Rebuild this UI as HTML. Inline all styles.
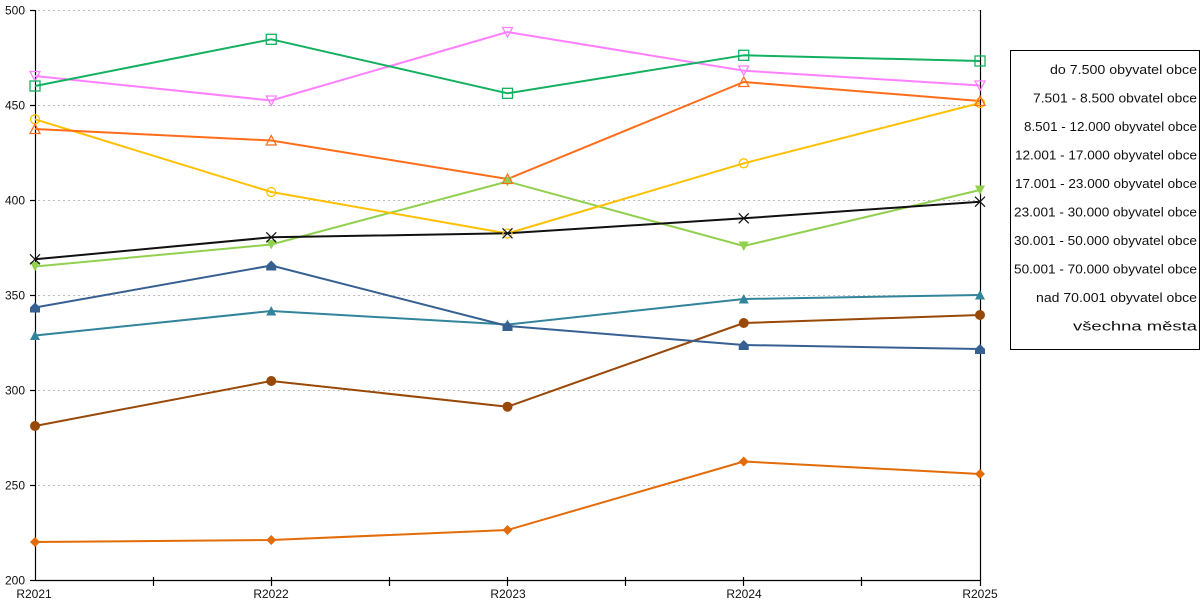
<!DOCTYPE html>
<html><head><meta charset="utf-8"><style>
html,body{margin:0;padding:0;background:#fff;}
svg{display:block;}
text{font-family:"Liberation Sans","DejaVu Sans",sans-serif;fill:#111;}
</style></head><body>
<svg width="1200" height="600" viewBox="0 0 1200 600" xmlns="http://www.w3.org/2000/svg">
<rect width="1200" height="600" fill="#fff"/>
<!-- grid -->
<g stroke="#bbbbbb" stroke-width="1" stroke-dasharray="2,3">
<line x1="38" y1="10.5" x2="980" y2="10.5"/>
<line x1="38" y1="105.5" x2="980" y2="105.5"/>
<line x1="38" y1="200.5" x2="980" y2="200.5"/>
<line x1="38" y1="295.5" x2="980" y2="295.5"/>
<line x1="38" y1="390.5" x2="980" y2="390.5"/>
<line x1="38" y1="485.5" x2="980" y2="485.5"/>
</g>
<!-- axes -->
<g stroke="#000" stroke-width="1.2">
<line x1="35.5" y1="10" x2="35.5" y2="581"/>
<line x1="980.5" y1="10" x2="980.5" y2="586"/>
<line x1="35" y1="580.5" x2="981" y2="580.5"/>
<line x1="30" y1="10.5" x2="35" y2="10.5"/>
<line x1="30" y1="105.5" x2="35" y2="105.5"/>
<line x1="30" y1="200.5" x2="35" y2="200.5"/>
<line x1="30" y1="295.5" x2="35" y2="295.5"/>
<line x1="30" y1="390.5" x2="35" y2="390.5"/>
<line x1="30" y1="485.5" x2="35" y2="485.5"/>
<line x1="30" y1="580.5" x2="35" y2="580.5"/>
<line x1="153.5" y1="577" x2="153.5" y2="586"/>
<line x1="271.5" y1="577" x2="271.5" y2="586"/>
<line x1="389.5" y1="577" x2="389.5" y2="586"/>
<line x1="507.5" y1="577" x2="507.5" y2="586"/>
<line x1="625.5" y1="577" x2="625.5" y2="586"/>
<line x1="743.5" y1="577" x2="743.5" y2="586"/>
<line x1="861.5" y1="577" x2="861.5" y2="586"/>
</g>
<!-- y labels -->
<g font-size="12" text-anchor="end">
<text x="25" y="14.5">500</text>
<text x="25" y="109.5">450</text>
<text x="25" y="204.5">400</text>
<text x="25" y="299.5">350</text>
<text x="25" y="394.5">300</text>
<text x="25" y="489.5">250</text>
<text x="25" y="584.5">200</text>
</g>
<!-- x labels -->
<g font-size="12" text-anchor="middle">
<text x="34" y="598">R2021</text>
<text x="271" y="598">R2022</text>
<text x="508" y="598">R2023</text>
<text x="744" y="598">R2024</text>
<text x="980" y="598">R2025</text>
</g>

<g fill="none" stroke-width="2" stroke-linejoin="round">
<polyline stroke="#e36c09" points="35,542 271.25,540 507.5,530 743.75,461.5 980,474"/>
<polyline stroke="#984807" points="35,426 271.25,381 507.5,406.7 743.75,323 980,315"/>
<polyline stroke="#31849b" points="35,335.5 271.25,311 507.5,324.5 743.75,299 980,295"/>
<polyline stroke="#376092" points="35,307.5 271.25,265.5 507.5,326 743.75,345 980,349"/>
<polyline stroke="#92d050" points="35,266.5 271.25,244.5 507.5,181.5 743.75,246 980,190"/>
<polyline stroke="#ffc000" points="35,119.3 271.25,192 507.5,233.5 743.75,163.3 980,103"/>
<polyline stroke="#ff6d1a" points="35,129 271.25,140.5 507.5,179 743.75,82 980,101"/>
<polyline stroke="#ff80ff" points="35,76 271.25,100.5 507.5,32 743.75,70.7 980,85.5"/>
<polyline stroke="#13b060" points="35,86 271.25,39.3 507.5,93.3 743.75,55.3 980,61"/>
<polyline stroke="#111" points="35,259.3 271.25,237.3 507.5,233.3 743.75,218.3 980,201.7"/>
</g>

<!-- markers -->
<g fill="#e36c09">
<path d="M35,537 l5,5 l-5,5 l-5,-5z"/>
<path d="M271.25,535 l5,5 l-5,5 l-5,-5z"/>
<path d="M507.5,525 l5,5 l-5,5 l-5,-5z"/>
<path d="M743.75,456.5 l5,5 l-5,5 l-5,-5z"/>
<path d="M980,469 l5,5 l-5,5 l-5,-5z"/>
</g>
<g fill="#984807">
<circle cx="35" cy="426" r="5"/>
<circle cx="271.25" cy="381" r="5"/>
<circle cx="507.5" cy="406.7" r="5"/>
<circle cx="743.75" cy="323" r="5"/>
<circle cx="980" cy="315" r="5"/>
</g>
<g fill="#31849b">
<path d="M35,330.5 l5,9.5 h-10z"/>
<path d="M271.25,306 l5,9.5 h-10z"/>
<path d="M507.5,319.5 l5,9.5 h-10z"/>
<path d="M743.75,294 l5,9.5 h-10z"/>
<path d="M980,290 l5,9.5 h-10z"/>
</g>
<g fill="#376092">
<path d="M35,302.5 l5,5 v5 h-10 v-5z"/>
<path d="M271.25,260.5 l5,5 v5 h-10 v-5z"/>
<path d="M507.5,321 l5,5 v5 h-10 v-5z"/>
<path d="M743.75,340 l5,5 v5 h-10 v-5z"/>
<path d="M980,344 l5,5 v5 h-10 v-5z"/>
</g>
<g fill="#92d050">
<path d="M30,262 h10 l-5,9.5z"/>
<path d="M266.25,240 h10 l-5,9.5z"/>
<path d="M502.5,177 h10 l-5,9.5z"/>
<path d="M738.75,241.5 h10 l-5,9.5z"/>
<path d="M975,185.5 h10 l-5,9.5z"/>
</g>
<g fill="none" stroke="#ffc000" stroke-width="1.3">
<circle cx="35" cy="119.3" r="4.5"/>
<circle cx="271.25" cy="192" r="4.5"/>
<circle cx="507.5" cy="233.5" r="4.5"/>
<circle cx="743.75" cy="163.3" r="4.5"/>
<circle cx="980" cy="103" r="4.5"/>
</g>
<g fill="none" stroke="#ff6d1a" stroke-width="1.3">
<path d="M35,124 l5,9.5 h-10z"/>
<path d="M271.25,135.5 l5,9.5 h-10z"/>
<path d="M507.5,174 l5,9.5 h-10z"/>
<path d="M743.75,77 l5,9.5 h-10z"/>
<path d="M980,96 l5,9.5 h-10z"/>
</g>
<g fill="none" stroke="#ff80ff" stroke-width="1.3">
<path d="M30,71.5 h10 l-5,9.5z"/>
<path d="M266.25,96 h10 l-5,9.5z"/>
<path d="M502.5,27.5 h10 l-5,9.5z"/>
<path d="M738.75,66 h10 l-5,9.5z"/>
<path d="M975,81 h10 l-5,9.5z"/>
</g>
<g fill="none" stroke="#13b060" stroke-width="1.3">
<rect x="30" y="81" width="10" height="10"/>
<rect x="266.25" y="34.3" width="10" height="10"/>
<rect x="502.5" y="88.3" width="10" height="10"/>
<rect x="738.75" y="50.3" width="10" height="10"/>
<rect x="975" y="56" width="10" height="10"/>
</g>
<g fill="none" stroke="#111" stroke-width="1.2">
<path d="M30,254.3 l10,10 m0,-10 l-10,10"/>
<path d="M266.25,232.3 l10,10 m0,-10 l-10,10"/>
<path d="M502.5,228.3 l10,10 m0,-10 l-10,10"/>
<path d="M738.75,213.3 l10,10 m0,-10 l-10,10"/>
<path d="M975,196.7 l10,10 m0,-10 l-10,10"/>
</g>

<!-- legend -->
<rect x="1010.5" y="50.5" width="189" height="299" fill="#fff" stroke="#000" stroke-width="1"/>
<g font-size="13" text-anchor="end">
<text x="1197" y="74" textLength="147" lengthAdjust="spacingAndGlyphs">do 7.500 obyvatel obce</text>
<text x="1197" y="102.5" textLength="164" lengthAdjust="spacingAndGlyphs">7.501 - 8.500 obvatel obce</text>
<text x="1197" y="131" textLength="173" lengthAdjust="spacingAndGlyphs">8.501 - 12.000 obyvatel obce</text>
<text x="1197" y="159.5" textLength="182" lengthAdjust="spacingAndGlyphs">12.001 - 17.000 obyvatel obce</text>
<text x="1197" y="188" textLength="182" lengthAdjust="spacingAndGlyphs">17.001 - 23.000 obyvatel obce</text>
<text x="1197" y="216.5" textLength="183" lengthAdjust="spacingAndGlyphs">23.001 - 30.000 obyvatel obce</text>
<text x="1197" y="245" textLength="183" lengthAdjust="spacingAndGlyphs">30.001 - 50.000 obyvatel obce</text>
<text x="1197" y="273.5" textLength="183" lengthAdjust="spacingAndGlyphs">50.001 - 70.000 obyvatel obce</text>
<text x="1197" y="302" textLength="161" lengthAdjust="spacingAndGlyphs">nad 70.001 obyvatel obce</text>
<text x="1197" y="330.5" textLength="124" lengthAdjust="spacingAndGlyphs">všechna města</text>
</g>
</svg>
</body></html>
